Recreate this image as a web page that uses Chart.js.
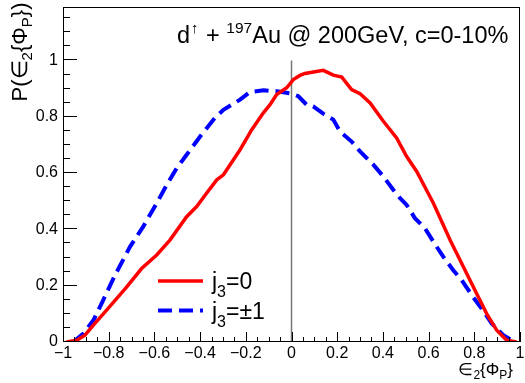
<!DOCTYPE html>
<html>
<head>
<meta charset="utf-8">
<script src="https://cdn.jsdelivr.net/npm/chart.js@4.4.1/dist/chart.umd.min.js"></script>
<style>
  body { margin: 0; background: #fff; }
  canvas { display: block; }
</style>
</head>
<body>
<canvas id="chart" width="525" height="383"></canvas>
<script>
// j3 = 0 (solid red)
const xRed = [-0.985, -0.94, -0.904, -0.867, -0.809, -0.721, -0.656, -0.59, -0.532, -0.459, -0.415, -0.371,
  -0.327, -0.298, -0.225, -0.174, -0.123, -0.094, -0.065, -0.021, 0.008, 0.037, 0.059, 0.139, 0.183, 0.22,
  0.263, 0.30, 0.344, 0.402, 0.46, 0.504, 0.548, 0.621, 0.694, 0.752, 0.81, 0.854, 0.898, 0.942, 0.985];
const yRed = [0.0, 0.006, 0.024, 0.06, 0.113, 0.196, 0.261, 0.309, 0.362, 0.445, 0.481, 0.529,
  0.576, 0.594, 0.683, 0.754, 0.814, 0.843, 0.879, 0.903, 0.932, 0.947, 0.954, 0.965, 0.948, 0.941,
  0.897, 0.882, 0.849, 0.784, 0.725, 0.659, 0.606, 0.493, 0.362, 0.267, 0.172, 0.101, 0.042, 0.006, 0.0];

// j3 = +-1 (dashed blue)
const xBlue = [-0.955, -0.911, -0.867, -0.824, -0.772, -0.707, -0.649, -0.59, -0.546, -0.502, -0.459, -0.40,
  -0.335, -0.298, -0.225, -0.182, -0.123, -0.065, -0.036, 0.0, 0.03, 0.066, 0.095, 0.139, 0.183, 0.212,
  0.263, 0.30, 0.358, 0.402, 0.446, 0.475, 0.504, 0.54, 0.584, 0.621, 0.664, 0.708, 0.745, 0.789, 0.832,
  0.876, 0.927, 0.964, 0.98];
const yBlue = [0.0, 0.03, 0.077, 0.149, 0.238, 0.338, 0.41, 0.493, 0.558, 0.618, 0.665, 0.73,
  0.796, 0.825, 0.861, 0.888, 0.894, 0.891, 0.887, 0.882, 0.873, 0.843, 0.837, 0.811, 0.79, 0.748,
  0.712, 0.677, 0.63, 0.588, 0.54, 0.511, 0.487, 0.44, 0.404, 0.356, 0.303, 0.255, 0.22, 0.166, 0.119,
  0.066, 0.024, 0.006, 0.0];

const xTicks = [-1, -0.8, -0.6, -0.4, -0.2, 0, 0.2, 0.4, 0.6, 0.8, 1];
const yTicks = [0, 0.2, 0.4, 0.6, 0.8, 1];
const legendValues = ['0', '\u00b11'];

const FONT = '"Liberation Sans", Arial, sans-serif';

function fmt(v) {
  if (Math.abs(v) < 1e-9) return '0';
  const s = String(+Math.abs(v).toFixed(1));
  return (v < 0 ? '\u2212' : '') + s;
}

// draw text made of pieces: {t, size, dy, gap}
function drawRich(ctx, parts, x, y, align) {
  let w = 0;
  parts.forEach(p => { ctx.font = p.size + 'px ' + FONT; w += ctx.measureText(p.t).width + (p.gap || 0); });
  let cx = align === 'right' ? x - w : align === 'center' ? x - w / 2 : x;
  ctx.textAlign = 'left';
  ctx.textBaseline = 'alphabetic';
  parts.forEach(p => {
    ctx.font = p.size + 'px ' + FONT;
    ctx.fillText(p.t, cx, y + (p.dy || 0));
    cx += ctx.measureText(p.t).width + (p.gap || 0);
  });
}

const rootStyle = {
  id: 'rootStyle',
  beforeDatasetsDraw(chart) {
    const { ctx } = chart;
    const xs = chart.scales.x, ys = chart.scales.y;
    ctx.save();
    ctx.strokeStyle = '#777';
    ctx.lineWidth = 1.5;
    ctx.beginPath();
    ctx.moveTo(xs.getPixelForValue(0), ys.getPixelForValue(0));
    ctx.lineTo(xs.getPixelForValue(0), ys.getPixelForValue(1));
    ctx.stroke();
    ctx.restore();
  },
  afterDraw(chart) {
    const { ctx, chartArea: a } = chart;
    const xs = chart.scales.x, ys = chart.scales.y;
    ctx.save();
    ctx.strokeStyle = '#000';
    ctx.lineWidth = 1;
    ctx.strokeRect(a.left + 0.5, a.top + 0.5, a.right - a.left - 1, a.bottom - a.top - 1);

    // ticks, drawn inside the frame
    ctx.beginPath();
    for (let k = 0; k <= 40; k++) {
      const px = Math.round(xs.getPixelForValue(-1 + k * 0.05)) + 0.5;
      const len = k % 4 === 0 ? 10 : 5;
      ctx.moveTo(px, a.bottom);
      ctx.lineTo(px, a.bottom - len);
    }
    for (let k = 0; k * 0.05 <= ys.max; k++) {
      const py = Math.round(ys.getPixelForValue(k * 0.05)) - 0.5;
      const len = k % 4 === 0 ? 14 : 7;
      ctx.moveTo(a.left, py);
      ctx.lineTo(a.left + len, py);
    }
    ctx.stroke();

    ctx.fillStyle = '#000';
    // header
    drawRich(ctx, [
      { t: 'd', size: 23.5, gap: 1 },
      { t: '\u2191', size: 15, dy: -10, gap: 1 },
      { t: ' + ', size: 23.5, gap: 0 },
      { t: '197', size: 15.5, dy: -10 },
      { t: 'Au @ 200GeV, c=0-10%', size: 23.5 }
    ], 177, 43, 'left');

    // x title
    drawRich(ctx, [
      { t: '\u2208', size: 17 },
      { t: '2', size: 12, dy: 4 },
      { t: '{\u03a6', size: 17 },
      { t: 'P', size: 12, dy: 4 },
      { t: '}', size: 17 }
    ], 513, 375, 'right');

    // y title, rotated
    ctx.save();
    ctx.translate(27, 52);
    ctx.rotate(-Math.PI / 2);
    drawRich(ctx, [
      { t: 'P(\u2208', size: 22 },
      { t: '2', size: 15, dy: 5 },
      { t: '{\u03a6', size: 22 },
      { t: 'P', size: 15, dy: 5 },
      { t: '})', size: 22 }
    ], 0, 0, 'center');
    ctx.restore();

    // legend
    chart.data.datasets.forEach((ds, i) => {
      const ly = 281 + i * 29.5;
      ctx.save();
      ctx.strokeStyle = ds.borderColor;
      ctx.lineWidth = ds.borderWidth;
      ctx.setLineDash(ds.borderDash || []);
      ctx.beginPath();
      ctx.moveTo(158, ly);
      ctx.lineTo(203, ly);
      ctx.stroke();
      ctx.restore();
      drawRich(ctx, [
        { t: 'j', size: 23 },
        { t: '3', size: 16, dy: 8 },
        { t: '=' + legendValues[i], size: 23 }
      ], 212, ly + 8, 'left');
    });
    ctx.restore();
  }
};

new Chart(document.getElementById('chart'), {
  type: 'line',
  data: {
    datasets: [{
      label: 'j3=0',
      data: xRed.map((x, i) => ({ x: x, y: yRed[i] })),
      borderColor: '#ff0000',
      borderWidth: 3.5,
      pointRadius: 0,
      tension: 0
    }, {
      label: 'j3=\u00b11',
      data: xBlue.map((x, i) => ({ x: x, y: yBlue[i] })),
      borderColor: '#0000ff',
      borderWidth: 4,
      borderDash: [14, 7],
      pointRadius: 0,
      tension: 0
    }]
  },
  plugins: [rootStyle],
  options: {
    responsive: false,
    devicePixelRatio: 1,
    animation: false,
    layout: { padding: { top: 7, right: 5, left: 0, bottom: 0 } },
    plugins: { legend: { display: false }, tooltip: { enabled: false } },
    scales: {
      x: {
        type: 'linear',
        min: -1,
        max: 1,
        afterBuildTicks: s => { s.ticks = xTicks.map(v => ({ value: v })); },
        afterFit: s => { s.height = 41; s.paddingLeft = 0; s.paddingRight = 0; },
        grid: { display: false, drawTicks: false },
        border: { display: false },
        ticks: {
          autoSkip: false,
          maxRotation: 0,
          padding: 2,
          color: '#000',
          font: { family: FONT, size: 16 },
          callback: v => fmt(v)
        }
      },
      y: {
        type: 'linear',
        min: 0,
        max: 1.19,
        afterBuildTicks: s => { s.ticks = yTicks.map(v => ({ value: v })); },
        afterFit: s => { s.width = 63; s.paddingTop = 0; s.paddingBottom = 0; },
        grid: { display: false, drawTicks: false },
        border: { display: false },
        ticks: {
          padding: 5,
          color: '#000',
          font: { family: FONT, size: 16 },
          callback: v => fmt(v)
        }
      }
    }
  }
});
</script>
</body>
</html>
